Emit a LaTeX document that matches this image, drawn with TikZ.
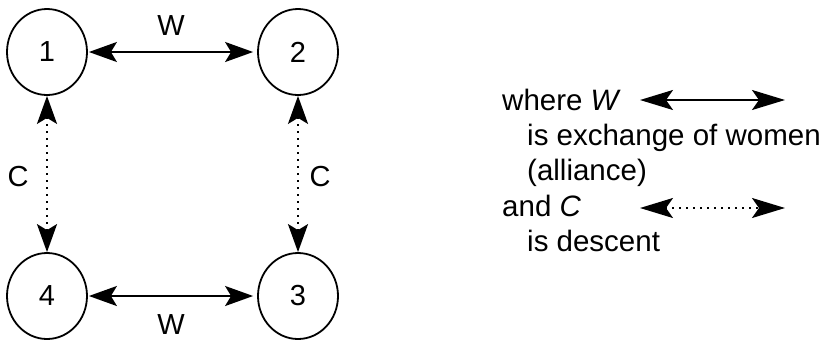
\documentclass[tikz,border=0pt]{standalone}
\usepackage{fontspec}
\setmainfont{Liberation Sans}
\usetikzlibrary{shapes.geometric,arrows.meta}
\begin{document}
\begin{tikzpicture}[x=1pt,y=-1pt,
  kin/.style={ellipse,draw,line width=1.8pt,minimum width=80pt,minimum height=86pt,inner sep=0pt,font=\fontsize{29}{31}\selectfont},
  lbl/.style={font=\fontsize{29}{31}\selectfont,inner sep=0pt},
  leg/.style={font=\fontsize{29.5}{33}\selectfont,inner sep=0pt,anchor=base west},
  wline/.style={{Stealth[length=28pt,width=20pt,inset=6pt]}-{Stealth[length=28pt,width=20pt,inset=6pt]},line width=2pt},
  cline/.style={{Stealth[length=28pt,width=20pt,inset=6pt]}-{Stealth[length=28pt,width=20pt,inset=6pt]},line width=2.2pt,dash pattern=on 2.2pt off 4.8pt},
  lwline/.style={{Stealth[length=33pt,width=20pt,inset=7pt]}-{Stealth[length=33pt,width=20pt,inset=7pt]},line width=2pt},
  lcline/.style={{Stealth[length=33pt,width=20pt,inset=7pt]}-{Stealth[length=33pt,width=20pt,inset=7pt]},line width=2pt,dash pattern=on 2pt off 5pt}]
\useasboundingbox (0,0) rectangle (828,341);
\node[kin] (n1) at (47,52) {1};
\node[kin] (n2) at (298,52) {2};
\node[kin] (n3) at (298,296) {3};
\node[kin] (n4) at (47,296) {4};
\draw[wline,shorten <=1pt,shorten >=4pt] (n1.east) -- (n2.west);
\draw[wline,shorten <=1pt,shorten >=4pt] (n4.east) -- (n3.west);
\draw[cline] (n1.south) -- (n4.north);
\draw[cline] (n2.south) -- (n3.north);
\node[lbl] (wt) at (171,26) {W};
\node[lbl] (wb) at (171,325) {W};
\node[lbl] (cl) at (18,177) {C};
\node[lbl] (cr) at (320,177) {C};
\node[leg] (l1) at (502,110) {where \textit{W}};
\node[leg] (l2) at (527,145) {is exchange of women};
\node[leg] (l3) at (527,180) {(alliance)};
\node[leg] (l4) at (502,216) {and \textit{C}};
\node[leg] (l5) at (527,251) {is descent};
\coordinate (a1) at (640,100);
\coordinate (b1) at (785,100);
\coordinate (a2) at (640,208);
\coordinate (b2) at (785,208);
\draw[lwline] (a1) -- (b1);
\draw[lcline] (a2) -- (b2);
\end{tikzpicture}
\end{document}
